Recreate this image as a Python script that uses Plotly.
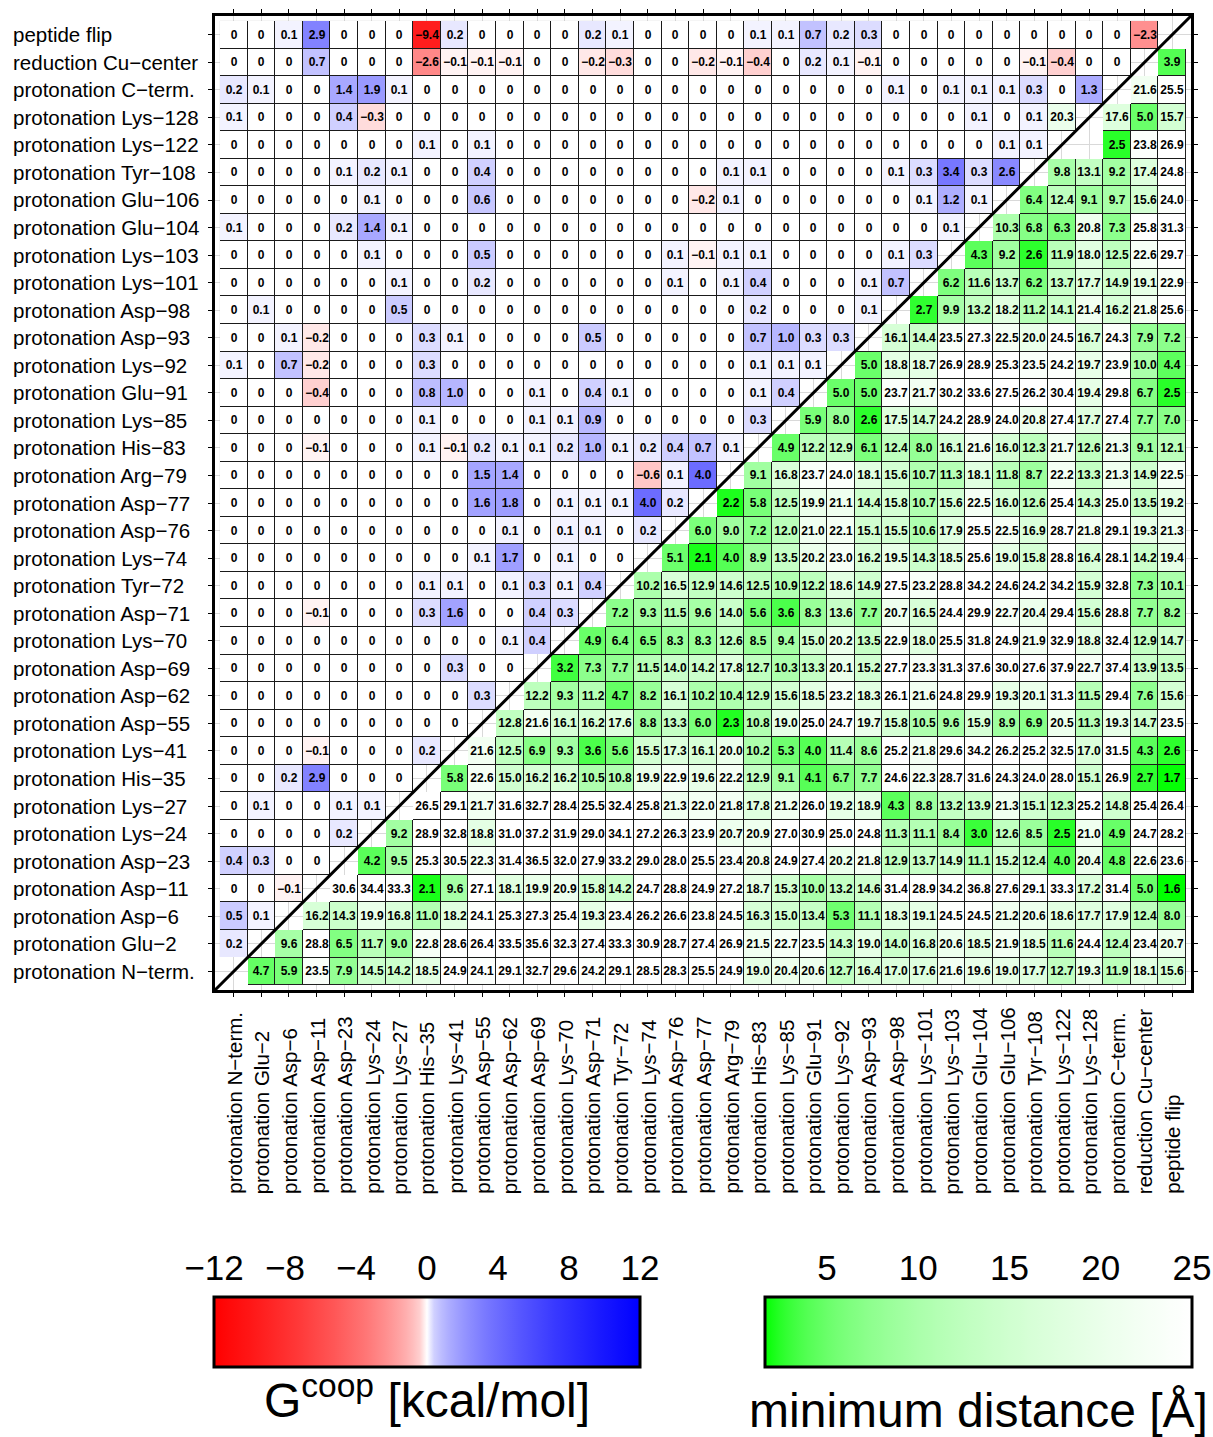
import math
import plotly.graph_objects as go

M = "\u2212"
LABELS = [
    "protonation N" + M + "term.", "protonation Glu" + M + "2", "protonation Asp" + M + "6",
    "protonation Asp" + M + "11", "protonation Asp" + M + "23", "protonation Lys" + M + "24",
    "protonation Lys" + M + "27", "protonation His" + M + "35", "protonation Lys" + M + "41",
    "protonation Asp" + M + "55", "protonation Asp" + M + "62", "protonation Asp" + M + "69",
    "protonation Lys" + M + "70", "protonation Asp" + M + "71", "protonation Tyr" + M + "72",
    "protonation Lys" + M + "74", "protonation Asp" + M + "76", "protonation Asp" + M + "77",
    "protonation Arg" + M + "79", "protonation His" + M + "83", "protonation Lys" + M + "85",
    "protonation Glu" + M + "91", "protonation Lys" + M + "92", "protonation Asp" + M + "93",
    "protonation Asp" + M + "98", "protonation Lys" + M + "101", "protonation Lys" + M + "103",
    "protonation Glu" + M + "104", "protonation Glu" + M + "106", "protonation Tyr" + M + "108",
    "protonation Lys" + M + "122", "protonation Lys" + M + "128", "protonation C" + M + "term.",
    "reduction Cu" + M + "center", "peptide flip",
]

# Gcoop [kcal/mol]: row r holds columns 0..r-1 (upper-left triangle of the picture)
G_ROWS = [
    [],
    [0.2],
    [0.5, 0.1],
    [0, 0, -0.1],
    [0.4, 0.3, 0, 0],
    [0, 0, 0, 0, 0.2],
    [0, 0.1, 0, 0, 0.1, 0.1],
    [0, 0, 0.2, 2.9, 0, 0, 0],
    [0, 0, 0, -0.1, 0, 0, 0, 0.2],
    [0, 0, 0, 0, 0, 0, 0, 0, 0],
    [0, 0, 0, 0, 0, 0, 0, 0, 0, 0.3],
    [0, 0, 0, 0, 0, 0, 0, 0, 0.3, 0, 0],
    [0, 0, 0, 0, 0, 0, 0, 0, 0, 0, 0.1, 0.4],
    [0, 0, 0, -0.1, 0, 0, 0, 0.3, 1.6, 0, 0, 0.4, 0.3],
    [0, 0, 0, 0, 0, 0, 0, 0.1, 0.1, 0, 0.1, 0.3, 0.1, 0.4],
    [0, 0, 0, 0, 0, 0, 0, 0, 0, 0.1, 1.7, 0, 0.1, 0, 0],
    [0, 0, 0, 0, 0, 0, 0, 0, 0, 0, 0.1, 0, 0.1, 0.1, 0, 0.2],
    [0, 0, 0, 0, 0, 0, 0, 0, 0, 1.6, 1.8, 0, 0.1, 0.1, 0.1, 4.0, 0.2],
    [0, 0, 0, 0, 0, 0, 0, 0, 0, 1.5, 1.4, 0, 0, 0, 0, -0.6, 0.1, 4.0],
    [0, 0, 0, -0.1, 0, 0, 0, 0.1, -0.1, 0.2, 0.1, 0.1, 0.2, 1.0, 0.1, 0.2, 0.4, 0.7, 0.1],
    [0, 0, 0, 0, 0, 0, 0, 0.1, 0, 0, 0, 0.1, 0.1, 0.9, 0, 0, 0, 0, 0, 0.3],
    [0, 0, 0, -0.4, 0, 0, 0, 0.8, 1.0, 0, 0, 0.1, 0, 0.4, 0.1, 0, 0, 0, 0, 0.1, 0.4],
    [0.1, 0, 0.7, -0.2, 0, 0, 0, 0.3, 0, 0, 0, 0, 0, 0, 0, 0, 0, 0, 0, 0.1, 0.1, 0.1],
    [0, 0, 0.1, -0.2, 0, 0, 0, 0.3, 0.1, 0, 0, 0, 0, 0.5, 0, 0, 0, 0, 0, 0.7, 1.0, 0.3, 0.3],
    [0, 0.1, 0, 0, 0, 0, 0.5, 0, 0, 0, 0, 0, 0, 0, 0, 0, 0, 0, 0, 0.2, 0, 0, 0, 0.1],
    [0, 0, 0, 0, 0, 0, 0.1, 0, 0, 0.2, 0, 0, 0, 0, 0, 0, 0.1, 0, 0.1, 0.4, 0, 0, 0, 0.1, 0.7],
    [0, 0, 0, 0, 0, 0.1, 0, 0, 0, 0.5, 0, 0, 0, 0, 0, 0, 0.1, -0.1, 0.1, 0.1, 0, 0, 0, 0, 0.1, 0.3],
    [0.1, 0, 0, 0, 0.2, 1.4, 0.1, 0, 0, 0, 0, 0, 0, 0, 0, 0, 0, 0, 0, 0, 0, 0, 0, 0, 0, 0, 0.1],
    [0, 0, 0, 0, 0, 0.1, 0, 0, 0, 0.6, 0, 0, 0, 0, 0, 0, 0, -0.2, 0.1, 0, 0, 0, 0, 0, 0, 0.1, 1.2, 0.1],
    [0, 0, 0, 0, 0.1, 0.2, 0.1, 0, 0, 0.4, 0, 0, 0, 0, 0, 0, 0, 0, 0.1, 0.1, 0, 0, 0, 0, 0.1, 0.3, 3.4, 0.3, 2.6],
    [0, 0, 0, 0, 0, 0, 0, 0.1, 0, 0.1, 0, 0, 0, 0, 0, 0, 0, 0, 0, 0, 0, 0, 0, 0, 0, 0, 0, 0, 0.1, 0.1],
    [0.1, 0, 0, 0, 0.4, -0.3, 0, 0, 0, 0, 0, 0, 0, 0, 0, 0, 0, 0, 0, 0, 0, 0, 0, 0, 0, 0, 0, 0.1, 0, 0.1, None],
    [0.2, 0.1, 0, 0, 1.4, 1.9, 0.1, 0, 0, 0, 0, 0, 0, 0, 0, 0, 0, 0, 0, 0, 0, 0, 0, 0, 0.1, 0, 0.1, 0.1, 0.1, 0.3, 0, 1.3],
    [0, 0, 0, 0.7, 0, 0, 0, -2.6, -0.1, -0.1, -0.1, 0, 0, -0.2, -0.3, 0, 0, -0.2, -0.1, -0.4, 0, 0.2, 0.1, -0.1, 0, 0, 0, 0, 0, -0.1, -0.4, 0, 0],
    [0, 0, 0.1, 2.9, 0, 0, 0, -9.4, 0.2, 0, 0, 0, 0, 0.2, 0.1, 0, 0, 0, 0, 0.1, 0.1, 0.7, 0.2, 0.3, 0, 0, 0, 0, 0, 0, 0, 0, 0, -2.3],
]

# minimum distance [A]: row r holds columns r+1..34 (lower-right triangle of the picture)
D_ROWS = [
    [4.7, 5.9, 23.5, 7.9, 14.5, 14.2, 18.5, 24.9, 24.1, 29.1, 32.7, 29.6, 24.2, 29.1, 28.5, 28.3, 25.5, 24.9, 19.0, 20.4, 20.6, 12.7, 16.4, 17.0, 17.6, 21.6, 19.6, 19.0, 17.7, 12.7, 19.3, 11.9, 18.1, 15.6],
    [9.6, 28.8, 6.5, 11.7, 9.0, 22.8, 28.6, 26.4, 33.5, 35.6, 32.3, 27.4, 33.3, 30.9, 28.7, 27.4, 26.9, 21.5, 22.7, 23.5, 14.3, 19.0, 14.0, 16.8, 20.6, 18.5, 21.9, 18.5, 11.6, 24.4, 12.4, 23.4, 20.7],
    [16.2, 14.3, 19.9, 16.8, 11.0, 18.2, 24.1, 25.3, 27.3, 25.4, 19.3, 23.4, 26.2, 26.6, 23.8, 24.5, 16.3, 15.0, 13.4, 5.3, 11.1, 18.3, 19.1, 24.5, 24.5, 21.2, 20.6, 18.6, 17.7, 17.9, 12.4, 8.0],
    [30.6, 34.4, 33.3, 2.1, 9.6, 27.1, 18.1, 19.9, 20.9, 15.8, 14.2, 24.7, 28.8, 24.9, 27.2, 18.7, 15.3, 10.0, 13.2, 14.6, 31.4, 28.9, 34.2, 36.8, 27.6, 29.1, 33.3, 17.2, 31.4, 5.0, 1.6],
    [4.2, 9.5, 25.3, 30.5, 22.3, 31.4, 36.5, 32.0, 27.9, 33.2, 29.0, 28.0, 25.5, 23.4, 20.8, 24.9, 27.4, 20.2, 21.8, 12.9, 13.7, 14.9, 11.1, 15.2, 12.4, 4.0, 20.4, 4.8, 22.6, 23.6],
    [9.2, 28.9, 32.8, 18.8, 31.0, 37.2, 31.9, 29.0, 34.1, 27.2, 26.3, 23.9, 20.7, 20.9, 27.0, 30.9, 25.0, 24.8, 11.3, 11.1, 8.4, 3.0, 12.6, 8.5, 2.5, 21.0, 4.9, 24.7, 28.2],
    [26.5, 29.1, 21.7, 31.6, 32.7, 28.4, 25.5, 32.4, 25.8, 21.3, 22.0, 21.8, 17.8, 21.2, 26.0, 19.2, 18.9, 4.3, 8.8, 13.2, 13.9, 21.3, 15.1, 12.3, 25.2, 14.8, 25.4, 26.4],
    [5.8, 22.6, 15.0, 16.2, 16.2, 10.5, 10.8, 19.9, 22.9, 19.6, 22.2, 12.9, 9.1, 4.1, 6.7, 7.7, 24.6, 22.3, 28.7, 31.6, 24.3, 24.0, 28.0, 15.1, 26.9, 2.7, 1.7],
    [21.6, 12.5, 6.9, 9.3, 3.6, 5.6, 15.5, 17.3, 16.1, 20.0, 10.2, 5.3, 4.0, 11.4, 8.6, 25.2, 21.8, 29.6, 34.2, 26.2, 25.2, 32.5, 17.0, 31.5, 4.3, 2.6],
    [12.8, 21.6, 16.1, 16.2, 17.6, 8.8, 13.3, 6.0, 2.3, 10.8, 19.0, 25.0, 24.7, 19.7, 15.8, 10.5, 9.6, 15.9, 8.9, 6.9, 20.5, 11.3, 19.3, 14.7, 23.5],
    [12.2, 9.3, 11.2, 4.7, 8.2, 16.1, 10.2, 10.4, 12.9, 15.6, 18.5, 23.2, 18.3, 26.1, 21.6, 24.8, 29.9, 19.3, 20.1, 31.3, 11.5, 29.4, 7.6, 15.6],
    [3.2, 7.3, 7.7, 11.5, 14.0, 14.2, 17.8, 12.7, 10.3, 13.3, 20.1, 15.2, 27.7, 23.3, 31.3, 37.6, 30.0, 27.6, 37.9, 22.7, 37.4, 13.9, 13.5],
    [4.9, 6.4, 6.5, 8.3, 8.3, 12.6, 8.5, 9.4, 15.0, 20.2, 13.5, 22.9, 18.0, 25.5, 31.8, 24.9, 21.9, 32.9, 18.8, 32.4, 12.9, 14.7],
    [7.2, 9.3, 11.5, 9.6, 14.0, 5.6, 3.6, 8.3, 13.6, 7.7, 20.7, 16.5, 24.4, 29.9, 22.7, 20.4, 29.4, 15.6, 28.8, 7.7, 8.2],
    [10.2, 16.5, 12.9, 14.6, 12.5, 10.9, 12.2, 18.6, 14.9, 27.5, 23.2, 28.8, 34.2, 24.6, 24.2, 34.2, 15.9, 32.8, 7.3, 10.1],
    [5.1, 2.1, 4.0, 8.9, 13.5, 20.2, 23.0, 16.2, 19.5, 14.3, 18.5, 25.6, 19.0, 15.8, 28.8, 16.4, 28.1, 14.2, 19.4],
    [6.0, 9.0, 7.2, 12.0, 21.0, 22.1, 15.1, 15.5, 10.6, 17.9, 25.5, 22.5, 16.9, 28.7, 21.8, 29.1, 19.3, 21.3],
    [2.2, 5.8, 12.5, 19.9, 21.1, 14.4, 15.8, 10.7, 15.6, 22.5, 16.0, 12.6, 25.4, 14.3, 25.0, 13.5, 19.2],
    [9.1, 16.8, 23.7, 24.0, 18.1, 15.6, 10.7, 11.3, 18.1, 11.8, 8.7, 22.2, 13.3, 21.3, 14.9, 22.5],
    [4.9, 12.2, 12.9, 6.1, 12.4, 8.0, 16.1, 21.6, 16.0, 12.3, 21.7, 12.6, 21.3, 9.1, 12.1],
    [5.9, 8.0, 2.6, 17.5, 14.7, 24.2, 28.9, 24.0, 20.8, 27.4, 17.7, 27.4, 7.7, 7.0],
    [5.0, 5.0, 23.7, 21.7, 30.2, 33.6, 27.5, 26.2, 30.4, 19.4, 29.8, 6.7, 2.5],
    [5.0, 18.8, 18.7, 26.9, 28.9, 25.3, 23.5, 24.2, 19.7, 23.9, 10.0, 4.4],
    [16.1, 14.4, 23.5, 27.3, 22.5, 20.0, 24.5, 16.7, 24.3, 7.9, 7.2],
    [2.7, 9.9, 13.2, 18.2, 11.2, 14.1, 21.4, 16.2, 21.8, 25.6],
    [6.2, 11.6, 13.7, 6.2, 13.7, 17.7, 14.9, 19.1, 22.9],
    [4.3, 9.2, 2.6, 11.9, 18.0, 12.5, 22.6, 29.7],
    [10.3, 6.8, 6.3, 20.8, 7.3, 25.8, 31.3],
    [6.4, 12.4, 9.1, 9.7, 15.6, 24.0],
    [9.8, 13.1, 9.2, 17.4, 24.8],
    [20.3, 2.5, 23.8, 26.9],
    [17.6, 5.0, 15.7],
    [21.6, 25.5],
    [3.9],
    [],
]
# distance pairs (row, col) that the original figure draws in the mirrored cell
MIRRORED = [(30, 31)]

G_TICKS = [-12, -8, -4, 0, 4, 8, 12]
D_TICKS = [5, 10, 15, 20, 25]
G_RANGE = (-12, 12)
D_RANGE = (1.6, 25)

N = len(LABELS)
for r in range(N):
    assert len(G_ROWS[r]) == r, ("G", r, len(G_ROWS[r]))
    assert len(D_ROWS[r]) == N - 1 - r, ("D", r, len(D_ROWS[r]))


def fmt_g(v):
    return "0" if v == 0 else f"{v:.1f}".replace("-", M)


zg = [[None] * N for _ in range(N)]
tg = [[""] * N for _ in range(N)]
zd = [[None] * N for _ in range(N)]
td = [[""] * N for _ in range(N)]
for r in range(N):
    for c, v in enumerate(G_ROWS[r]):
        if v is not None:
            zg[r][c] = v
            tg[r][c] = fmt_g(v)
    for k, v in enumerate(D_ROWS[r]):
        c = r + 1 + k
        rr, cc = (c, r) if (r, c) in MIRRORED else (r, c)
        zd[rr][cc] = v
        td[rr][cc] = f"{v:.1f}"
zu = [[1 if (zg[r][c] is not None or zd[r][c] is not None) else None for c in range(N)] for r in range(N)]

# colour scales
g_scale = []
for i in range(61):
    p = i / 60
    v = G_RANGE[0] + (G_RANGE[1] - G_RANGE[0]) * p
    t = (abs(v) / 12) ** 0.5
    k = round(255 * (1 - t))
    col = f"rgb(255,{k},{k})" if v < 0 else f"rgb({k},{k},255)"
    g_scale.append([p, col])
d_scale = []
for i in range(61):
    p = i / 60
    v = D_RANGE[0] + (D_RANGE[1] - D_RANGE[0]) * p
    s = math.log(v / D_RANGE[0]) / math.log(D_RANGE[1] / D_RANGE[0])
    k = round(255 * s)
    d_scale.append([p, f"rgb({k},255,{k})"])

FONT = "Liberation Sans, Arial, sans-serif"
W, H = 1213, 1437
# pixel frame of the matrix panel and the two colour bars (left, top, right, bottom)
PANEL = (215, 16, 1191, 990)
GBAR = (214, 1297, 640, 1367)
DBAR = (765, 1297, 1192, 1367)
TICK_GAP = 9


def xp(px):
    return px / W


def yp(py):
    return (H - py) / H


PAD = 0.18
rng = [-0.5 - PAD, N - 0.5 + PAD]
idx = list(range(N))

fig = go.Figure()
fig.add_trace(go.Heatmap(
    x=idx, y=idx, z=zu, colorscale=[[0, "#1a1a1a"], [1, "#1a1a1a"]], showscale=False,
    hoverinfo="skip", zmin=0, zmax=1,
))


def cbar(box, ticks, title, push):
    return dict(
        orientation="h", x=xp(box[0]), xanchor="left", y=yp(box[1]), yanchor="top",
        lenmode="pixels", len=box[2] - box[0], thickness=box[3] - box[1], xpad=0, ypad=0,
        outlinewidth=3, outlinecolor="black", tickvals=ticks, ticks="",
        ticklabelposition="outside" if push else "inside",
        tickfont=dict(size=push if push else 1, color="rgba(0,0,0,0)"),
        title=dict(text=title, side="bottom", font=dict(family=FONT, size=48, color="black")),
    )


fig.add_trace(go.Heatmap(
    x=idx, y=idx, z=zg, text=tg, texttemplate="%{text}",
    textfont=dict(family=FONT, size=12, color="black", weight="bold"),
    colorscale=g_scale, zmin=G_RANGE[0], zmax=G_RANGE[1], xgap=1, ygap=1,
    colorbar=cbar(GBAR, G_TICKS, "G<sup>coop</sup> [kcal/mol]", 0),
))
fig.add_trace(go.Heatmap(
    x=idx, y=idx, z=zd, text=td, texttemplate="%{text}",
    textfont=dict(family=FONT, size=12, color="black", weight="bold"),
    colorscale=d_scale, zmin=D_RANGE[0], zmax=D_RANGE[1], xgap=1, ygap=1,
    colorbar=cbar(DBAR, D_TICKS, "minimum distance [Å]", 9),
))
# invisible carriers for the colour-bar tick axes (labels above the bars)
fig.add_trace(go.Scatter(x=[None], y=[None], xaxis="x2", yaxis="y2", showlegend=False, hoverinfo="skip"))
fig.add_trace(go.Scatter(x=[None], y=[None], xaxis="x3", yaxis="y3", showlegend=False, hoverinfo="skip"))

axis = dict(
    range=rng, tickvals=idx, showticklabels=False, ticks="outside", ticklen=4,
    tickcolor="black", showgrid=True, gridcolor="#d9d9d9", gridwidth=1,
    zeroline=False, showline=True, linewidth=3, linecolor="black", mirror="ticks",
    fixedrange=True,
)


def tick_axis(box, rngv, ticks, anchor):
    return dict(
        domain=[xp(box[0]), xp(box[2])], range=list(rngv), tickvals=ticks,
        ticktext=[str(t).replace("-", M) for t in ticks], side="top", anchor=anchor,
        ticks="", showgrid=False, zeroline=False, showline=False, fixedrange=True,
        tickfont=dict(family=FONT, size=35, color="black"),
    )


def hidden_y(box, anchor):
    return dict(domain=[yp(box[3]), yp(box[1] - TICK_GAP)], range=[0, 1], visible=False,
                anchor=anchor, fixedrange=True)


fig.update_layout(
    width=W, height=H, margin=dict(l=0, r=0, t=0, b=0, autoexpand=False),
    paper_bgcolor="white", plot_bgcolor="white",
    xaxis=dict(axis, domain=[xp(PANEL[0]), xp(PANEL[2])], anchor="y"),
    yaxis=dict(axis, domain=[yp(PANEL[3]), yp(PANEL[1])], anchor="x"),
    xaxis2=tick_axis(GBAR, G_RANGE, G_TICKS, "y2"),
    yaxis2=hidden_y(GBAR, "x2"),
    xaxis3=tick_axis(DBAR, D_RANGE, D_TICKS, "y3"),
    yaxis3=hidden_y(DBAR, "x3"),
    showlegend=False,
    font=dict(family=FONT, color="black"),
)

ann = []
for i, lab in enumerate(LABELS):
    ann.append(dict(
        x=xp(11), xref="paper", xanchor="left",
        y=i, yref="y", yanchor="middle", text=lab, showarrow=False,
        font=dict(family=FONT, size=20.5, color="black"),
    ))
    ann.append(dict(
        x=i, xref="x", xanchor="center",
        y=yp(1196), yref="paper", yanchor="bottom",
        text=lab, textangle=-90, showarrow=False,
        font=dict(family=FONT, size=20.5, color="black"),
    ))
fig.update_layout(annotations=ann)
fig.add_shape(type="line", xref="x", yref="y", x0=rng[0], y0=rng[0], x1=rng[1], y1=rng[1],
              line=dict(color="black", width=3))

fig.write_html("out.html", config={"displayModeBar": False},
               post_script="document.body.style.margin='0px';")
